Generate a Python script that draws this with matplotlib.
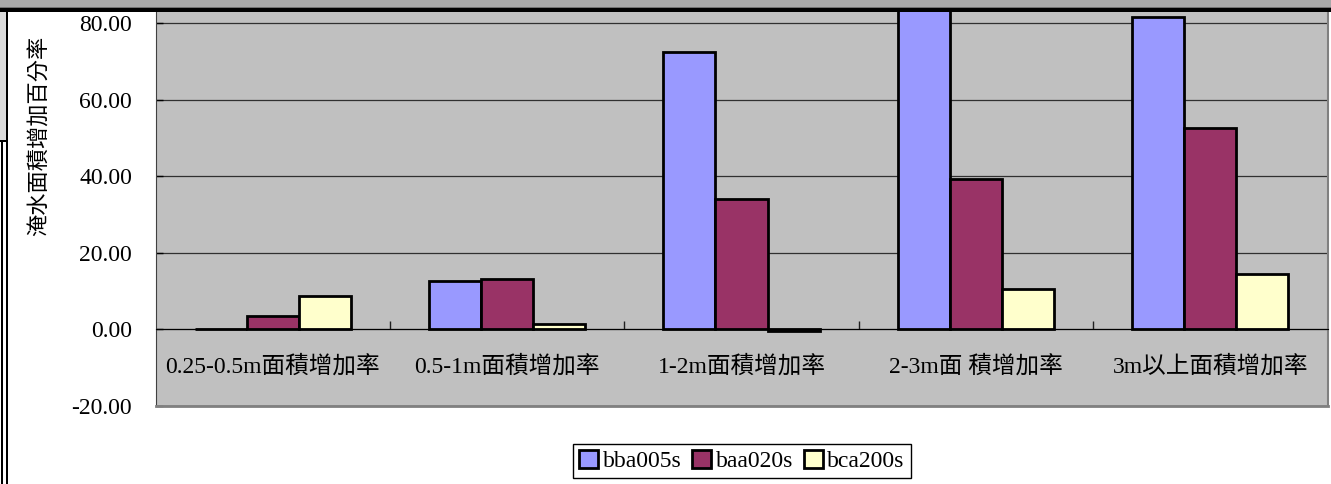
import numpy as np
import matplotlib
matplotlib.use('Agg')
import matplotlib.pyplot as plt
from matplotlib.patches import Rectangle

plt.rcParams['font.family'] = ['Liberation Serif', 'Noto Sans CJK TC']
plt.rcParams['axes.unicode_minus'] = False

# flood area increase (%) per depth class
categories = ['0.25-0.5m面積增加率', '0.5-1m面積增加率', '1-2m面積增加率',
              '2-3m面 積增加率', '3m以上面積增加率']
bba005s = [0.0, 12.5, 72.5, 89.0, 81.8]
baa020s = [3.3, 13.2, 34.0, 39.2, 52.5]
bca200s = [8.6, 1.3, -0.6, 10.6, 14.5]
series_names = ['bba005s', 'baa020s', 'bca200s']
series_colors = ['#9999FF', '#993366', '#FFFFCC']
yticks = [-20, 0, 20, 40, 60, 80]

W, H = 1331, 484
fig = plt.figure(figsize=(W / 100, H / 100), dpi=100)

def fx(x):
    return x / W

def fy(y):
    return 1 - y / H

# plot area runs past the top edge of the sheet
ax_top, ax_bot = -53.0, 405.5
ax = fig.add_axes([fx(155.5), fy(ax_bot), fx(1327.5) - fx(155.5), (ax_bot - ax_top) / H])
ax.set_facecolor('#C0C0C0')

x = np.arange(len(categories))
bw = 1 / 4.5
for i, (vals, name, col) in enumerate(zip([bba005s, baa020s, bca200s], series_names, series_colors)):
    ax.bar(x + (i - 1) * bw, vals, bw, color=col, edgecolor='black', linewidth=2.0,
           label=name, zorder=3)

ax.set_xlim(-0.5, len(categories) - 0.5)
ax.set_ylim(-20, 100)
ax.set_yticks(yticks)
ax.set_yticklabels([f'{v:.2f}' for v in yticks])
ax.axhline(100, color='#303030', linewidth=0.9, zorder=1)
ax.yaxis.grid(True, color='#303030', linewidth=0.9)
ax.set_axisbelow(True)
ax.tick_params(axis='y', direction='in', length=5, width=1, pad=17, labelsize=17, colors='black')

# category axis sits at zero, ticks between groups
ax.spines['bottom'].set_position(('data', 0))
ax.spines['bottom'].set_color('black')
ax.spines['bottom'].set_zorder(4)
ax.set_xticks(x)
ax.set_xticklabels(categories)
ax.set_xticks(np.arange(0.5, len(categories) - 0.5, 1), minor=True)
ax.tick_params(axis='x', which='major', length=0, pad=19, labelsize=17)
ax.tick_params(axis='x', which='minor', direction='in', length=6, width=1, color='#202020')

for side in ['top', 'right']:
    ax.spines[side].set_color('#808080')
    ax.spines[side].set_linewidth(1.5)
ax.spines['left'].set_color('#404040')
ax.axhline(-20, color='#808080', linewidth=2, clip_on=False, zorder=5)

fig.text(fx(40), fy(136), '淹水面積增加百分率', rotation=90, ha='center', va='center', fontsize=16)

fig.legend(loc='center', bbox_to_anchor=(fx(742), fy(461)), ncol=3, fontsize=17,
           frameon=True, fancybox=False, edgecolor='black', framealpha=1,
           handlelength=0.8, handleheight=0.8, handletextpad=0.2, columnspacing=0.45,
           borderpad=0.25, borderaxespad=0)
fig.legends[0].get_frame().set_linewidth(1)

# sheet frame around the chart
def frame_rect(x0, y0, x1, y1, color):
    fig.patches.append(Rectangle((fx(x0), fy(y1)), fx(x1) - fx(x0), fy(y0) - fy(y1),
                                 transform=fig.transFigure, color=color, zorder=10, linewidth=0))

frame_rect(0, 0, W, 7, '#A8A8A8')
frame_rect(0, 7, W, 7.8, '#707070')
frame_rect(0, 7.8, W, 12.3, 'black')
frame_rect(0, 12.3, 6, 140, '#DCDCDC')
frame_rect(0, 140, 6, 141.5, 'black')
frame_rect(1, 141.5, 2.7, H, 'black')
frame_rect(6, 12.3, 8.2, H, 'black')

fig.savefig('out.png', dpi=100)
